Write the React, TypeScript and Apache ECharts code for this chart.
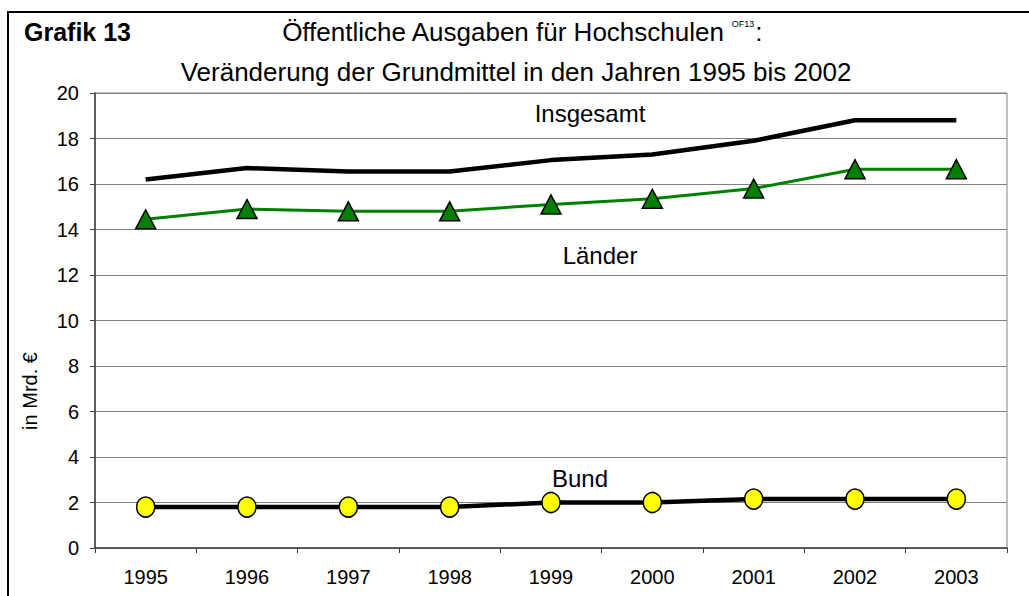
import React, { useEffect, useRef } from "react";
import * as echarts from "echarts";

const years = ["1995", "1996", "1997", "1998", "1999", "2000", "2001", "2002", "2003"];
const insgesamt = [16.2, 16.7, 16.55, 16.55, 17.05, 17.3, 17.9, 18.8, 18.8];
const laender = [14.45, 14.9, 14.8, 14.8, 15.1, 15.35, 15.8, 16.65, 16.65];
const bund = [1.8, 1.8, 1.8, 1.8, 2.0, 2.0, 2.15, 2.15, 2.15];

const FONT = "'Liberation Sans', Arial, sans-serif";

export default function App() {
  const ref = useRef<HTMLDivElement>(null);
  useEffect(() => {
    if (!ref.current) return;
    const chart = echarts.init(ref.current, null, { renderer: "svg" });
    chart.setOption({
      animation: false,
      backgroundColor: "#ffffff",
      textStyle: { fontFamily: FONT },
      grid: {
        left: 95,
        right: 22,
        top: 93,
        bottom: 48,
        show: true,
        borderColor: "#808080",
        borderWidth: 1,
      },
      xAxis: {
        type: "category",
        data: years,
        boundaryGap: true,
        axisLine: { lineStyle: { color: "#404040", width: 1.5 } },
        axisTick: { show: true, alignWithLabel: false, length: 5, lineStyle: { color: "#404040" } },
        axisLabel: { color: "#000", fontSize: 20, fontFamily: FONT, margin: 19 },
      },
      yAxis: {
        type: "value",
        min: 0,
        max: 20,
        interval: 2,
        axisLine: { show: true, lineStyle: { color: "#404040", width: 1.5 } },
        axisTick: { show: true, length: 5, lineStyle: { color: "#404040" } },
        axisLabel: { color: "#000", fontSize: 20, fontFamily: FONT, margin: 16 },
        splitLine: { show: true, lineStyle: { color: "#808080", width: 1 } },
      },
      series: [
        {
          name: "Insgesamt",
          type: "line",
          data: insgesamt,
          showSymbol: false,
          symbol: "none",
          lineStyle: { color: "#000", width: 4.5 },
          z: 3,
        },
        {
          name: "Länder",
          type: "line",
          data: laender,
          symbol: "triangle",
          symbolSize: [20, 19],
          itemStyle: { color: "#008000", borderColor: "#000", borderWidth: 1.5 },
          lineStyle: { color: "#008000", width: 3 },
          z: 4,
        },
        {
          name: "Bund",
          type: "line",
          data: bund,
          symbol: "circle",
          symbolSize: [18, 20],
          itemStyle: { color: "#ffff00", borderColor: "#000", borderWidth: 1.5 },
          lineStyle: { color: "#000", width: 4.5 },
          z: 5,
        },
      ],
      graphic: [
        {
          type: "rect",
          shape: { x: 8, y: 12, width: 1100, height: 700 },
          style: { fill: "none", stroke: "#000", lineWidth: 2 },
          z: 10,
        },
        {
          type: "text",
          x: 24,
          y: 32,
          style: {
            text: "Grafik 13",
            font: `bold 25px ${FONT}`,
            fill: "#000",
            textVerticalAlign: "middle",
          },
        },
        {
          type: "text",
          x: 522,
          y: 32,
          style: {
            text: "{a|Öffentliche Ausgaben für Hochschulen }{s|OF13}{a|:}",
            textAlign: "center",
            textVerticalAlign: "middle",
            rich: {
              a: { fontSize: 26, fontFamily: FONT, color: "#000" },
              s: { fontSize: 9, fontFamily: FONT, color: "#000", verticalAlign: "top", padding: [0, 1, 12, 0] },
            },
          },
        },
        {
          type: "text",
          x: 516,
          y: 72,
          style: {
            text: "Veränderung der Grundmittel in den Jahren 1995 bis 2002",
            font: `26px ${FONT}`,
            fill: "#000",
            textAlign: "center",
            textVerticalAlign: "middle",
          },
        },
        {
          type: "text",
          x: 30,
          y: 391,
          rotation: Math.PI / 2,
          style: {
            text: "in Mrd. €",
            font: `20px ${FONT}`,
            fill: "#000",
            textAlign: "center",
            textVerticalAlign: "middle",
          },
        },
        {
          type: "text",
          x: 590,
          y: 113,
          style: { text: "Insgesamt", font: `24px ${FONT}`, fill: "#000", textAlign: "center", textVerticalAlign: "middle" },
        },
        {
          type: "text",
          x: 600,
          y: 255,
          style: { text: "Länder", font: `24px ${FONT}`, fill: "#000", textAlign: "center", textVerticalAlign: "middle" },
        },
        {
          type: "text",
          x: 580,
          y: 478,
          style: { text: "Bund", font: `24px ${FONT}`, fill: "#000", textAlign: "center", textVerticalAlign: "middle" },
        },
      ],
    });
    return () => chart.dispose();
  }, []);
  return (
    <div
      ref={ref}
      style={{ position: "fixed", left: 0, top: 0, width: 1029, height: 596 }}
    />
  );
}
